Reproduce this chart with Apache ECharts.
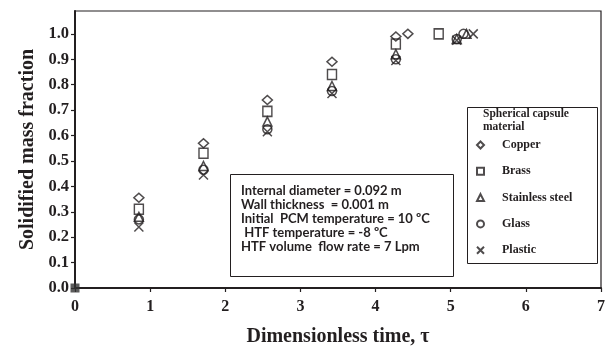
<!DOCTYPE html>
<html>
<head>
<meta charset="utf-8">
<script src="https://cdn.jsdelivr.net/npm/echarts@6/dist/echarts.min.js"></script>
<style>html,body{margin:0;padding:0;background:#fff}#c{width:608px;height:352px}</style>
</head>
<body>
<div id="c"></div>
<script>
// ---- data ----
const xTicks = [0, 1, 2, 3, 4, 5, 6, 7];
const yTicks = [0.0, 0.1, 0.2, 0.3, 0.4, 0.5, 0.6, 0.7, 0.8, 0.9, 1.0];

const copperTau  = [0.85, 1.71, 2.56, 3.42, 4.27, 4.43];
const copperFrac = [0.355, 0.57, 0.74, 0.89, 0.99, 1.0];

const brassTau  = [0.85, 1.71, 2.56, 3.42, 4.27, 4.84];
const brassFrac = [0.31, 0.53, 0.695, 0.84, 0.96, 1.0];

const steelTau  = [0.85, 1.71, 2.56, 3.42, 4.27, 5.08, 5.21];
const steelFrac = [0.28, 0.48, 0.655, 0.795, 0.92, 0.98, 1.0];

const glassTau  = [0.85, 1.71, 2.56, 3.42, 4.27, 5.08, 5.17];
const glassFrac = [0.27, 0.465, 0.625, 0.775, 0.90, 0.98, 1.0];

const plasticTau  = [0.85, 1.71, 2.56, 3.42, 4.27, 5.08, 5.30];
const plasticFrac = [0.24, 0.445, 0.615, 0.765, 0.895, 0.975, 1.0];

const originTau = [0];
const originFrac = [0];

const seriesNames = ['Copper', 'Brass', 'Stainless steel', 'Glass', 'Plastic'];
const infoLines = [
  'Internal diameter = 0.092 m',
  'Wall thickness  = 0.001 m',
  'Initial  PCM temperature = 10 \u00BAC',
  ' HTF temperature = -8 \u00BAC',
  'HTF volume  flow rate = 7 Lpm'
];
// ---------------------------------------

const pair = (xs, ys) => xs.map((x, i) => [x, ys[i]]);
const INK = '#231f20';
const SERIF = '"Liberation Serif","Times New Roman",serif';
const CROSS = 'path://M0,0L10,10M10,0L0,10';

function mk(name, xs, ys, symbol, size) {
  return {
    name, type: 'scatter', data: pair(xs, ys), symbol, symbolSize: size,
    itemStyle: { color: 'rgba(255,255,255,0)', borderColor: INK, borderWidth: 1.5 },
    emphasis: { disabled: true }, z: 3
  };
}

const chart = echarts.init(document.getElementById('c'), null, { renderer: 'canvas' });
chart.setOption({
  animation: false,
  backgroundColor: '#fff',
  grid: { left: 75, right: 2, top: 11, bottom: 60, show: true, borderColor: INK, borderWidth: 1.2, containLabel: false },
  xAxis: {
    type: 'value', min: 0, max: 7, interval: 1,
    name: 'Dimensionless time, \u03C4', nameLocation: 'middle', nameGap: 39,
    nameTextStyle: { fontFamily: SERIF, fontWeight: 'bold', fontSize: 20, color: INK },
    axisLine: { show: true, onZero: false, lineStyle: { color: INK, width: 2 } },
    axisTick: { show: true, length: 4, lineStyle: { color: INK, width: 1.2 } },
    axisLabel: { margin: 11, fontFamily: SERIF, fontWeight: 'bold', fontSize: 16, color: INK,
      customValues: xTicks, formatter: v => String(v) },
    splitLine: { show: false }
  },
  yAxis: {
    type: 'value', min: 0, max: 1.09,
    name: 'Solidified mass fraction', nameLocation: 'middle', nameGap: 37, nameRotate: 90,
    nameTextStyle: { fontFamily: SERIF, fontWeight: 'bold', fontSize: 20, color: INK },
    axisLine: { show: true, onZero: false, lineStyle: { color: INK, width: 2 } },
    axisTick: { show: true, length: 4, customValues: yTicks, lineStyle: { color: INK, width: 1.2 } },
    axisLabel: { margin: 6, fontFamily: SERIF, fontWeight: 'bold', fontSize: 16.5, color: INK,
      customValues: yTicks, formatter: v => v.toFixed(1) },
    splitLine: { show: false }
  },
  legend: {
    data: seriesNames, orient: 'vertical', left: 471, top: 134,
    itemWidth: 7, itemHeight: 7, itemGap: 14.3, selectedMode: false,
    itemStyle: { borderWidth: 2, borderColor: INK, color: 'rgba(255,255,255,0)' },
    formatter: n => '{s| }' + n,
    textStyle: { fontFamily: SERIF, fontWeight: 'bold', fontSize: 12, lineHeight: 12, color: INK,
      rich: { s: { width: 13, fontSize: 12, lineHeight: 12 } } }
  },
  graphic: [
    { type: 'rect', left: 467, top: 107, shape: { width: 130, height: 156 },
      style: { fill: '#fff', stroke: INK, lineWidth: 1 }, z: 1 },
    { type: 'text', left: 483, top: 108, z: 2,
      style: { text: 'Spherical capsule\nmaterial', fontFamily: SERIF, fontWeight: 'bold',
        fontSize: 11.5, lineHeight: 13, fill: INK } },
    { type: 'rect', left: 230, top: 174, shape: { width: 223, height: 102 },
      style: { fill: '#fff', stroke: INK, lineWidth: 1 }, z: 1 },
    { type: 'text', left: 241, top: 184, z: 2,
      style: { text: infoLines.join('\n'), fontFamily: 'Lato, sans-serif', fontWeight: 'bold',
        fontSize: 13, lineHeight: 14, fill: INK } }
  ],
  series: [
    mk('Copper', copperTau, copperFrac, 'diamond', [10, 9]),
    mk('Brass', brassTau, brassFrac, 'rect', [9, 10]),
    mk('Stainless steel', steelTau, steelFrac, 'triangle', [9, 9]),
    mk('Glass', glassTau, glassFrac, 'circle', 9),
    mk('Plastic', plasticTau, plasticFrac, CROSS, [9, 9]),
    { name: 'origin', type: 'scatter', data: pair(originTau, originFrac), symbol: 'rect', symbolSize: 9,
      itemStyle: { color: '#333' }, emphasis: { disabled: true }, z: 4 }
  ]
});
</script>
</body>
</html>
